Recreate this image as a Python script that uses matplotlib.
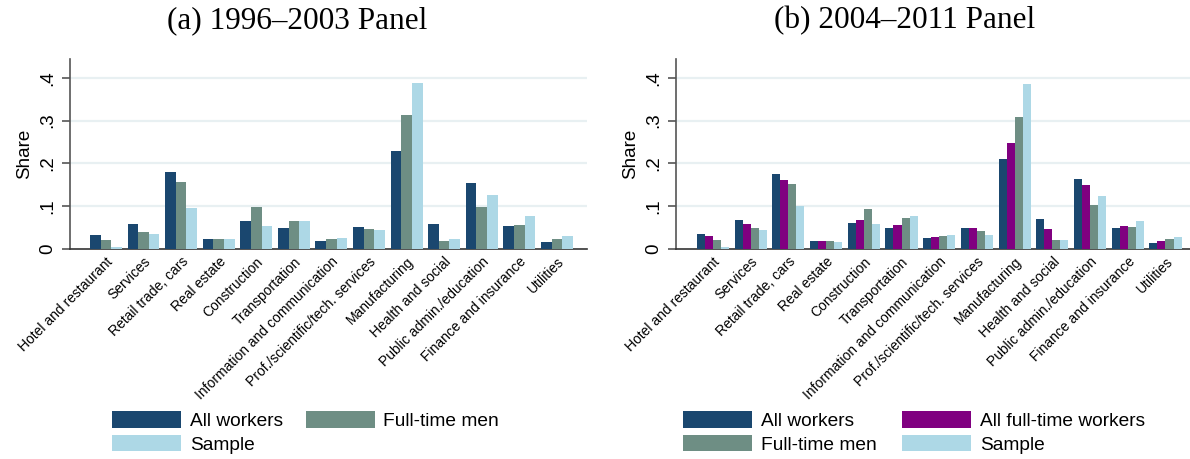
import matplotlib
matplotlib.use("Agg")
import matplotlib.pyplot as plt
import numpy as np

industries = [
    "Hotel and restaurant", "Services", "Retail trade, cars", "Real estate",
    "Construction", "Transportation", "Information and communication",
    "Prof./scientific/tech. services", "Manufacturing", "Health and social",
    "Public admin./education", "Finance and insurance", "Utilities",
]

# 1996-2003 panel
p1_all_workers = [0.033, 0.058, 0.180, 0.023, 0.065, 0.049, 0.019, 0.051, 0.229, 0.058, 0.154, 0.054, 0.016]
p1_ft_men      = [0.021, 0.040, 0.157, 0.023, 0.098, 0.065, 0.023, 0.047, 0.313, 0.019, 0.098, 0.056, 0.023]
p1_sample      = [0.005, 0.036, 0.096, 0.023, 0.054, 0.065, 0.026, 0.044, 0.388, 0.023, 0.126, 0.077, 0.030]

# 2004-2011 panel
p2_all_workers = [0.035, 0.068, 0.175, 0.019, 0.061, 0.049, 0.026, 0.049, 0.210, 0.070, 0.163, 0.049, 0.014]
p2_all_ft      = [0.030, 0.058, 0.161, 0.019, 0.068, 0.056, 0.028, 0.049, 0.247, 0.047, 0.149, 0.054, 0.019]
p2_ft_men      = [0.021, 0.049, 0.152, 0.019, 0.093, 0.072, 0.030, 0.042, 0.308, 0.021, 0.103, 0.051, 0.023]
p2_sample      = [0.005, 0.044, 0.100, 0.016, 0.058, 0.077, 0.033, 0.033, 0.385, 0.021, 0.124, 0.065, 0.028]

y_ticks = [0, 0.1, 0.2, 0.3, 0.4]
y_tick_labels = ["0", ".1", ".2", ".3", ".4"]

NAVY = "#1a476f"
PURPLE = "#800080"
TEAL = "#6e8e84"
LTBLUE = "#add8e6"
GRID = "#e8f0f2"

W, H = 1190, 459
fig = plt.figure(figsize=(W / 100, H / 100), dpi=100)
fig.patch.set_facecolor("white")


def px_axes(x0, x1, y_top, y_bot):
    return fig.add_axes([x0 / W, 1 - y_bot / H, (x1 - x0) / W, (y_bot - y_top) / H])


def draw_panel(ax, series, colors, labels, xlim, legend_order):
    n = len(series)
    group_w = 0.85
    bw = group_w / n
    x = np.arange(len(industries))
    handles = []
    for k, (vals, c, lab) in enumerate(zip(series, colors, labels)):
        offs = -group_w / 2 + bw * (k + 0.5)
        h = ax.bar(x + offs, vals, width=bw, color=c, label=lab, linewidth=0, zorder=3)
        handles.append(h)
    ax.set_xlim(*xlim)
    ax.set_ylim(0, 0.444)
    ax.set_yticks(y_ticks)
    ax.set_yticklabels(y_tick_labels, rotation=90, va="center", fontsize=13.5,
                       family="Liberation Sans")
    ax.set_xticks(x)
    ax.set_xticklabels(industries, rotation=45, ha="right", rotation_mode="anchor",
                       fontsize=10, family="Liberation Sans")
    ax.tick_params(axis="x", length=0, pad=4)
    ax.tick_params(axis="y", length=6, width=1.2, color="#555555", pad=4)
    for yv in y_ticks[1:]:
        ax.axhline(yv, color=GRID, linewidth=1.6, zorder=1)
    for s in ("top", "right"):
        ax.spines[s].set_visible(False)
    ax.spines["left"].set_color("#555555")
    ax.spines["left"].set_linewidth(1.2)
    ax.spines["bottom"].set_color("#333333")
    ax.spines["bottom"].set_linewidth(1.2)
    ax.set_ylabel("Share", fontsize=13.5, family="Liberation Sans", labelpad=4)
    return [handles[i] for i in legend_order], [labels[i] for i in legend_order]


ax1 = px_axes(70, 587, 59, 249)
h1, l1 = draw_panel(
    ax1, [p1_all_workers, p1_ft_men, p1_sample], [NAVY, TEAL, LTBLUE],
    ["All workers", "Full-time men", "Sample"], (-0.955, 12.8), [0, 2, 1])

ax2 = px_axes(676, 1190, 59, 249)
h2, l2 = draw_panel(
    ax2, [p2_all_workers, p2_all_ft, p2_ft_men, p2_sample], [NAVY, PURPLE, TEAL, LTBLUE],
    ["All workers", "All full-time workers", "Full-time men", "Sample"],
    (-0.98, 12.65), [0, 2, 1, 3])

legend_kw = dict(ncol=2, frameon=False, handlelength=3.6, handleheight=0.95,
                 handletextpad=0.45, labelspacing=0.25, borderpad=0, borderaxespad=0,
                 prop={"family": "Liberation Sans", "size": 13.8})
fig.legend(h1, l1, loc="upper left", bbox_to_anchor=(112 / W, 1 - 411 / H),
           columnspacing=1.2, **legend_kw)
fig.legend(h2, l2, loc="upper left", bbox_to_anchor=(683 / W, 1 - 411 / H),
           columnspacing=1.35, **legend_kw)

fig.text(297 / W, 1 - 21 / H, "(a) 1996\u20132003 Panel", ha="center", va="center",
         fontsize=22.5, family="Liberation Serif")
fig.text(905 / W, 1 - 21 / H, "(b) 2004\u20132011 Panel", ha="center", va="center",
         fontsize=22.5, family="Liberation Serif")

fig.savefig("out.png", dpi=100, facecolor="white")
